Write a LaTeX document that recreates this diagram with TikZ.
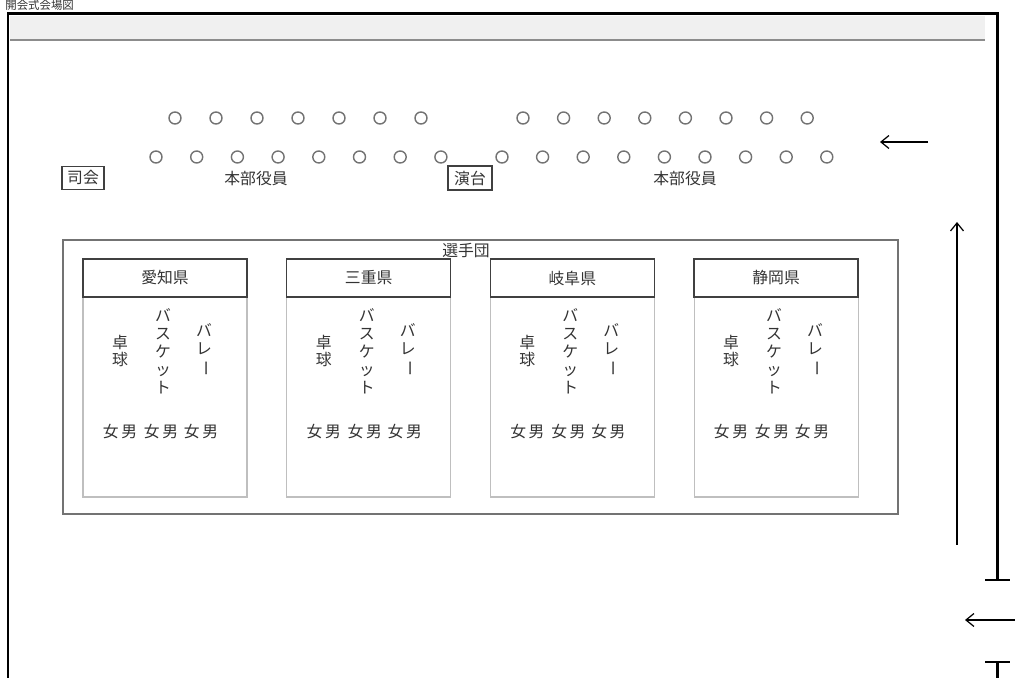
\documentclass[tikz,border=0pt]{standalone}
\usepackage{fontspec}
\setmainfont{Noto Sans CJK JP}
\usetikzlibrary{arrows.meta}

\newcommand{\tatebar}{\rotatebox[origin=c]{-90}{ー}}

\begin{document}
\begin{tikzpicture}[x=0.02cm,y=-0.02cm,font=\fontsize{9}{10.2}\selectfont,text=black!80,
    entry/.style={-{Straight Barb[length=1.6mm,width=2.6mm]},line width=0.7pt}]
  \useasboundingbox (0,0) rectangle (1015,678);
  % title
  \node[anchor=base west,inner sep=0,font=\fontsize{6.5}{7}\selectfont] (title) at (5,10) {開会式会場図};
  % hall frame and stage band
  \fill[black!6] (10,16) rectangle (985,40);
  \draw[black!45,line width=1.1pt] (10,40) -- (985,40);
  \draw[line width=1.7pt] (8,678) -- (8,14) -- (997,14) -- (997,580);
  \draw[line width=1.1pt] (985,580) -- (1010,580);
  \draw[line width=1.1pt] (985,662) -- (1010,662);
  \draw[line width=1.7pt] (997,662) -- (997,678);
  % entrance arrows
  \draw[entry] (928,142) -- (880,142);
  \draw[entry] (957,545) -- (957,222);
  \draw[entry] (1015,620) -- (965,620);
  % seats of the officials
  \foreach \i in {0,...,6}
    \draw[black!55,line width=0.8pt] (175+41*\i,118) circle (6);
  \foreach \i in {0,...,7}
    \draw[black!55,line width=0.8pt] (523+40.6*\i,118) circle (6);
  \foreach \i in {0,...,7}
    \draw[black!55,line width=0.8pt] (156+40.7*\i,157) circle (6);
  \foreach \i in {0,...,8}
    \draw[black!55,line width=0.8pt] (502+40.6*\i,157) circle (6);
  \node[draw=black!75,line width=0.7pt,minimum width=0.84cm,minimum height=0.46cm,inner sep=1pt] (shikai) at (83,178) {司会};
  \node[draw=black!75,line width=0.7pt,minimum width=0.88cm,minimum height=0.48cm,inner sep=1pt] (endai) at (470,178) {演台};
  \node (honbu1) at (256,179) {本部役員};
  \node (honbu2) at (685,179) {本部役員};
  % athletes
  \draw[black!55,line width=1pt] (63,240) rectangle (898,514);
  \node[inner sep=0] (senshu) at (466,251) {選手団};
  \foreach \pref [count=\i] in {愛知県,三重県,岐阜県,静岡県} {
    \pgfmathsetmacro{\x}{83+203.7*(\i-1)}
    \draw[black!25,line width=0.6pt] (\x,297) rectangle (\x+164,497);
    \draw[black!75,line width=0.8pt] (\x,259) rectangle (\x+164,297);
    \node (pref\i) at (\x+82,278) {\pref};
    \node[align=center,inner sep=0] (taku\i) at (\x+37,351) {卓\\球};
    \node[align=center,inner sep=0] (basket\i) at (\x+80,351) {バ\\ス\\ケ\\ッ\\ト};
    \node[align=center,inner sep=0] (volley\i) at (\x+121,350) {バ\\レ\\\tatebar};
    \node (sexa\i) at (\x+37,432) {女\,男};
    \node (sexb\i) at (\x+78,432) {女\,男};
    \node (sexc\i) at (\x+118,432) {女\,男};
  }
\end{tikzpicture}
\end{document}
